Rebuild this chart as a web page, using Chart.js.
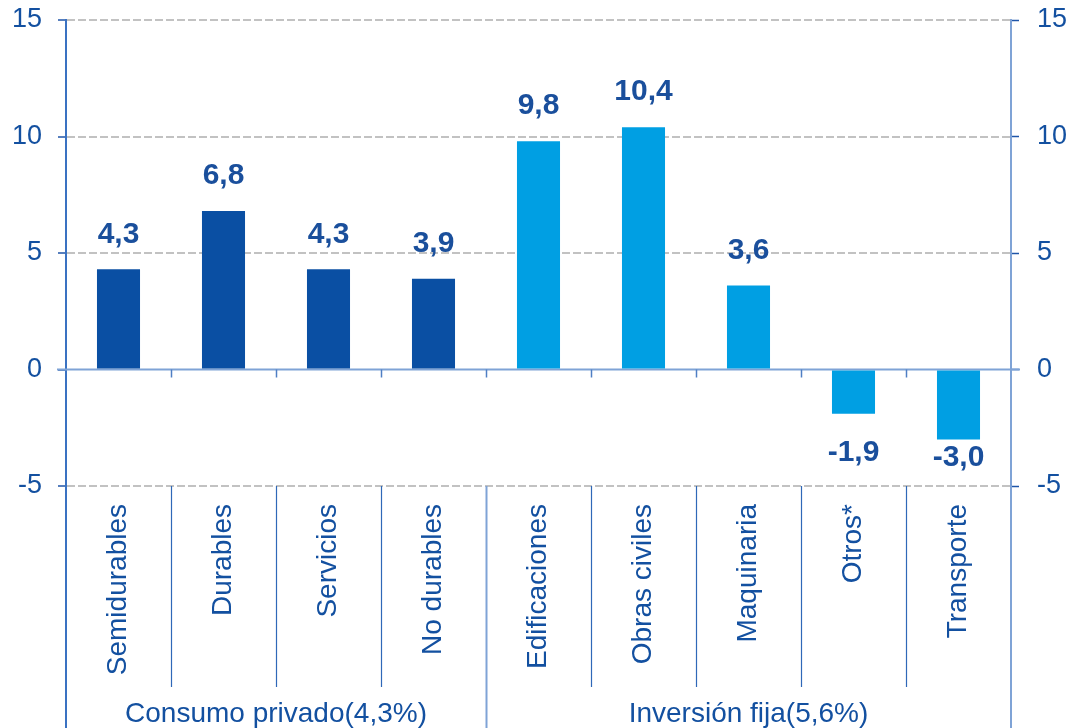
<!DOCTYPE html>
<html>
<head>
<meta charset="utf-8">
<script src="https://cdn.jsdelivr.net/npm/chart.js@4/dist/chart.umd.min.js"></script>
<style>
  html, body { margin: 0; padding: 0; background: #ffffff; }
  #wrap { width: 1072px; height: 728px; position: relative; }
</style>
</head>
<body>
<div id="wrap"><canvas id="c" width="1072" height="728"></canvas></div>
<script>
// ---- Data ----
const categories = ["Semidurables", "Durables", "Servicios", "No durables",
                    "Edificaciones", "Obras civiles", "Maquinaria", "Otros*", "Transporte"];
const consumoValues = [4.3, 6.8, 4.3, 3.9];
const inversionValues = [9.8, 10.4, 3.6, -1.9, -3.0];
const groupLabels = ["Consumo privado(4,3%)", "Inversión fija(5,6%)"];
const groupSizes = [consumoValues.length, inversionValues.length];
const yTicks = [-5, 0, 5, 10, 15];

// ---- Styles ----
const FONT = "'Liberation Sans', Arial, sans-serif";
const TEXT_BLUE = "#1350a0";
const DARK_BAR = "#0a4fa3";
const LIGHT_BAR = "#009fe3";
const groupColors = [DARK_BAR, LIGHT_BAR];

const values = consumoValues.concat(inversionValues);
const barColors = [];
groupSizes.forEach((n, g) => { for (let i = 0; i < n; i++) barColors.push(groupColors[g]); });

function fmt(v) { return v.toFixed(1).replace('.', ','); }
function noPad(s) { s.paddingTop = 0; s.paddingBottom = 0; s.paddingLeft = 0; s.paddingRight = 0; }

const decorPlugin = {
  id: 'decor',
  beforeDatasetsDraw(chart) {
    const ctx = chart.ctx, ca = chart.chartArea;
    const y = chart.scales.y;
    const y0 = y.getPixelForValue(0);
    ctx.save();
    ctx.strokeStyle = "#7fa3d6";
    ctx.lineWidth = 2;
    ctx.beginPath();
    ctx.moveTo(ca.left - 9, y0);
    ctx.lineTo(ca.right + 9, y0);
    ctx.stroke();
    ctx.restore();
  },
  afterDraw(chart) {
    const ctx = chart.ctx, ca = chart.chartArea;
    const x = chart.scales.x, y = chart.scales.y;
    const y0 = y.getPixelForValue(0);
    const H = chart.height;
    const n = categories.length;
    const boundary = k => (x.getPixelForValue(k - 1) + x.getPixelForValue(k)) / 2;
    ctx.save();
    ctx.strokeStyle = "#4f7fc4";
    ctx.lineWidth = 1.5;
    for (let k = 1; k < n; k++) {
      const bx = Math.round(boundary(k)) + 0.5;
      ctx.beginPath(); ctx.moveTo(bx, y0); ctx.lineTo(bx, y0 + 8); ctx.stroke();
    }
    const groupEnds = [];
    let acc = 0;
    groupSizes.forEach(s => { acc += s; groupEnds.push(acc); });
    const rowBottom = H - 41;
    for (let k = 1; k < n; k++) {
      const bx = Math.round(boundary(k)) + 0.5;
      const isGroup = groupEnds.includes(k);
      ctx.strokeStyle = isGroup ? "#7fa3d6" : "#2f68b8";
      ctx.lineWidth = isGroup ? 2 : 1.2;
      ctx.beginPath(); ctx.moveTo(bx, ca.bottom); ctx.lineTo(bx, isGroup ? H : rowBottom); ctx.stroke();
    }
    ctx.strokeStyle = "#3a72c2"; ctx.lineWidth = 2;
    ctx.beginPath(); ctx.moveTo(ca.left, ca.bottom); ctx.lineTo(ca.left, H); ctx.stroke();
    ctx.strokeStyle = "#7fa3d6";
    ctx.beginPath(); ctx.moveTo(ca.right, ca.bottom); ctx.lineTo(ca.right, H); ctx.stroke();
    ctx.fillStyle = TEXT_BLUE;
    ctx.font = "28px " + FONT;
    ctx.textAlign = "center";
    ctx.textBaseline = "middle";
    let start = 0;
    groupSizes.forEach((s, g) => {
      const left = start === 0 ? ca.left : boundary(start);
      const right = start + s >= n ? ca.right : boundary(start + s);
      ctx.fillText(groupLabels[g], (left + right) / 2, H - 14);
      start += s;
    });
    const meta = chart.getDatasetMeta(0);
    ctx.font = "bold 30px " + FONT;
    ctx.fillStyle = "#1a4f9c";
    meta.data.forEach((el, i) => {
      const v = values[i];
      let ly;
      if (v >= 0) ly = el.y - 35;
      else ly = Math.min(el.y + 39, ca.bottom - 28);
      ctx.fillText(fmt(v), el.x, ly);
    });
    ctx.restore();
  }
};

new Chart(document.getElementById('c'), {
  type: 'bar',
  data: {
    labels: categories,
    datasets: [{
      data: values,
      backgroundColor: barColors,
      borderWidth: 0,
      barPercentage: 0.41,
      categoryPercentage: 1.0
    }]
  },
  options: {
    responsive: false,
    animation: false,
    devicePixelRatio: 1,
    layout: { padding: { top: 20, left: 0, right: 0, bottom: 0 } },
    plugins: { legend: { display: false }, tooltip: { enabled: false }, title: { display: false } },
    scales: {
      x: {
        grid: { display: true, drawOnChartArea: false, drawTicks: false, color: 'transparent' },
        border: { display: false },
        ticks: {
          color: TEXT_BLUE,
          font: { family: FONT, size: 28 },
          minRotation: 90, maxRotation: 90,
          autoSkip: false,
          padding: 18
        },
        afterFit(s) { s.height = 242; noPad(s); }
      },
      y: {
        position: 'left',
        min: -5, max: 15,
        afterBuildTicks(s) { s.ticks = yTicks.map(v => ({ value: v })); },
        grid: {
          color: ctx => (ctx.tick && ctx.tick.value === 0) ? 'transparent' : '#c2c2c2',
          lineWidth: 2,
          drawTicks: true,
          tickLength: 8,
          tickColor: '#1f55a8',
          tickWidth: 1.5
        },
        border: { display: true, color: '#3a72c2', width: 2, dash: [8, 3] },
        ticks: {
          color: TEXT_BLUE,
          font: { family: FONT, size: 27 },
          padding: 16
        },
        afterFit(s) { s.width = 66; noPad(s); }
      },
      y2: {
        position: 'right',
        min: -5, max: 15,
        afterBuildTicks(s) { s.ticks = yTicks.map(v => ({ value: v })); },
        grid: {
          drawOnChartArea: false,
          drawTicks: true,
          tickLength: 8,
          tickColor: '#1f55a8',
          tickWidth: 1.5
        },
        border: { display: true, color: '#7fa3d6', width: 2 },
        ticks: {
          color: TEXT_BLUE,
          font: { family: FONT, size: 27 },
          padding: 18
        },
        afterFit(s) { s.width = 61; noPad(s); }
      }
    }
  },
  plugins: [decorPlugin]
});
</script>
</body>
</html>
